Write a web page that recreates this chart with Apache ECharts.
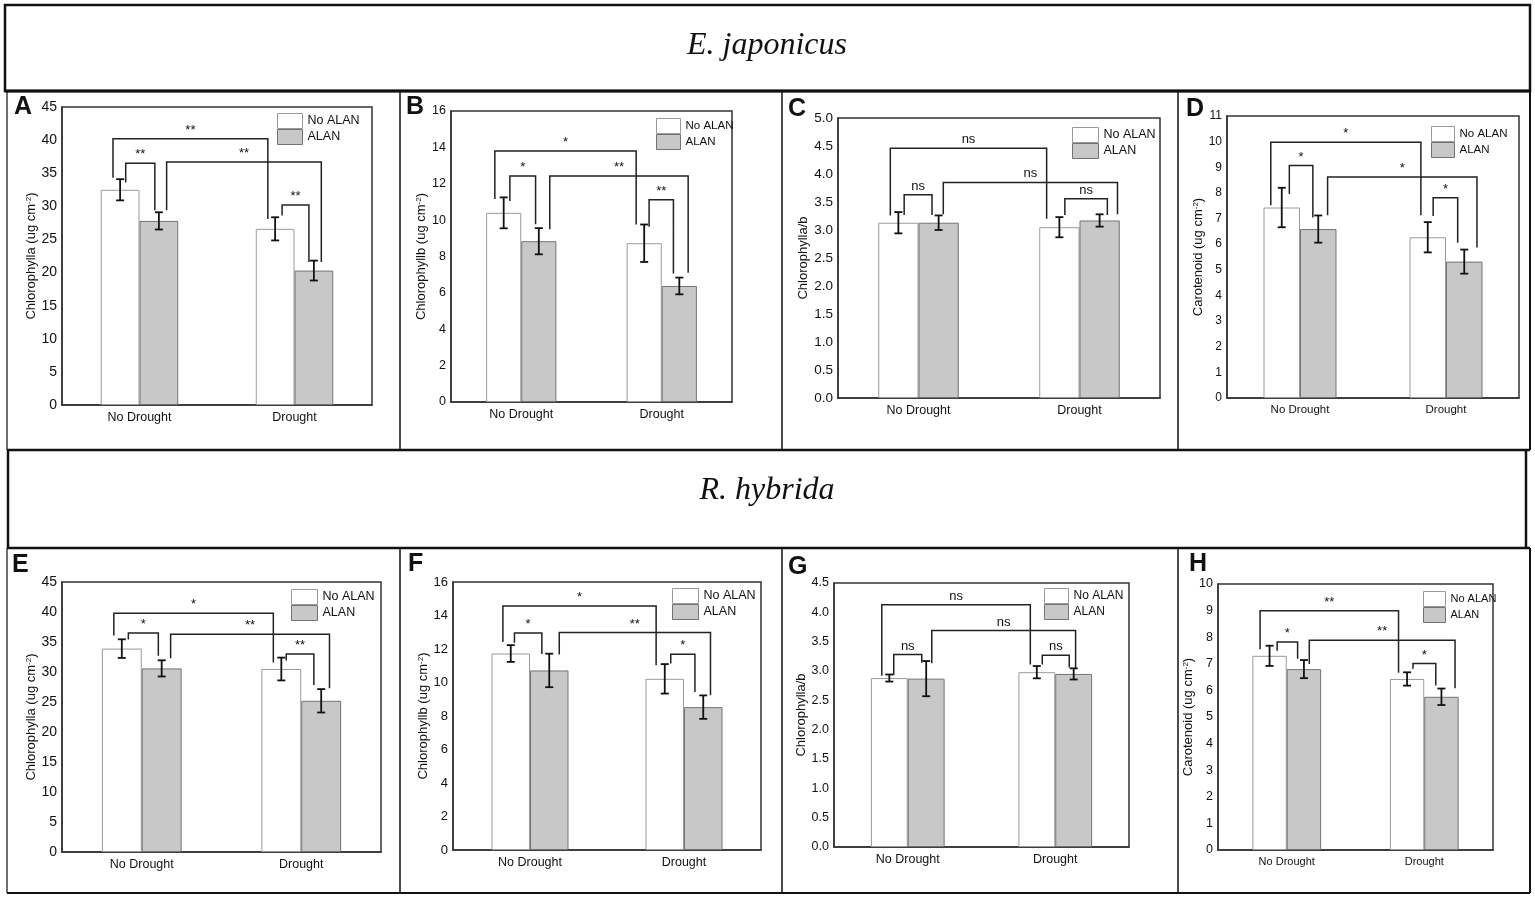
<!DOCTYPE html>
<html><head><meta charset="utf-8">
<script src="https://cdn.jsdelivr.net/npm/echarts@6/dist/echarts.min.js"></script>
<style>html,body{margin:0;padding:0;background:#fff}#c{width:1535px;height:898px}</style>
</head><body><div id="c"></div>
<script>
// ---------- data ----------
const categories = ['No Drought', 'Drought'];
const seriesNames = ['No ALAN', 'ALAN'];
const speciesTitles = ['E. japonicus', 'R. hybrida'];
const panelLetters = ['A', 'B', 'C', 'D', 'E', 'F', 'G', 'H'];
const yNames = [
  'Chlorophylla (ug cm{sup|-2})', 'Chlorophyllb (ug cm{sup|-2})', 'Chlorophylla/b', 'Carotenoid (ug cm{sup|-2})',
  'Chlorophylla (ug cm{sup|-2})', 'Chlorophyllb (ug cm{sup|-2})', 'Chlorophylla/b', 'Carotenoid (ug cm{sup|-2})'
];
const yMax = [45, 16, 5, 11, 45, 16, 4.5, 10];
const yStep = [5, 2, 0.5, 1, 5, 2, 0.5, 1];
const yDecimals = [0, 0, 1, 0, 0, 0, 1, 0];

// means (No Drought, Drought) and standard errors
const aNoAlan = [32.5, 26.6], aAlan = [27.8, 20.3], aNoAlanErr = [1.6, 1.75], aAlanErr = [1.3, 1.5];
const bNoAlan = [10.4, 8.73], bAlan = [8.84, 6.38], bNoAlanErr = [0.85, 1.03], bAlanErr = [0.72, 0.46];
const cNoAlan = [3.13, 3.05], cAlan = [3.13, 3.17], cNoAlanErr = [0.19, 0.18], cAlanErr = [0.13, 0.11];
const dNoAlan = [7.43, 6.27], dAlan = [6.59, 5.32], dNoAlanErr = [0.77, 0.59], dAlanErr = [0.53, 0.47];
const eNoAlan = [33.9, 30.5], eAlan = [30.6, 25.2], eNoAlanErr = [1.55, 1.9], eAlanErr = [1.35, 1.95];
const fNoAlan = [11.73, 10.22], fAlan = [10.72, 8.53], fNoAlanErr = [0.5, 0.88], fAlanErr = [1.0, 0.7];
const gNoAlan = [2.88, 2.98], gAlan = [2.87, 2.95], gNoAlanErr = [0.06, 0.105], gAlanErr = [0.3, 0.095];
const hNoAlan = [7.3, 6.43], hAlan = [6.8, 5.76], hNoAlanErr = [0.38, 0.25], hAlanErr = [0.34, 0.31];

// significance brackets: [leg1 category-coord, leg2 category-coord, bar height, leg1 end, leg2 end, label]
const aSig = [[-0.171, 0.828, 40.2, 34.3, 28.1, '**'], [-0.089, 0.099, 36.5, 33.6, 29.4, '**'], [0.175, 1.173, 36.7, 29.4, 21.6, '**'], [0.920, 1.093, 30.2, 28.6, 21.6, '**']];
const bSig = [[-0.188, 0.818, 13.8, 11.16, 9.76, '*'], [-0.081, 0.102, 12.42, 11.05, 9.78, '*'], [0.203, 1.188, 12.42, 9.5, 7.1, '**'], [0.910, 1.083, 11.12, 9.63, 7.06, '**']];
const cSig = [[-0.175, 0.796, 4.46, 3.26, 3.2, 'ns'], [-0.089, 0.084, 3.63, 3.27, 3.27, 'ns'], [0.154, 1.236, 3.85, 3.28, 3.28, 'ns'], [0.909, 1.173, 3.56, 3.27, 3.27, 'ns']];
const dSig = [[-0.200, 0.828, 9.98, 7.52, 7.13, '*'], [-0.073, 0.088, 9.07, 7.96, 7.04, '*'], [0.189, 1.212, 8.62, 7.13, 5.87, '*'], [0.912, 1.080, 7.81, 7.1, 6.06, '*']];
const eSig = [[-0.175, 0.825, 39.8, 36.1, 31.6, '*'], [-0.084, 0.104, 36.5, 35.4, 32.7, '*'], [0.181, 1.177, 36.3, 32.3, 27.3, '**'], [0.906, 1.079, 33.0, 31.9, 27.85, '**']];
const fSig = [[-0.176, 0.819, 14.57, 12.42, 11.03, '*'], [-0.101, 0.077, 12.96, 12.38, 11.7, '*'], [0.190, 1.172, 12.98, 11.67, 9.24, '**'], [0.914, 1.071, 11.69, 11.13, 9.44, '*']];
const gSig = [[-0.176, 0.831, 4.13, 2.92, 3.11, 'ns'], [-0.095, 0.095, 3.28, 2.93, 3.14, 'ns'], [0.163, 1.138, 3.69, 3.13, 3.05, 'ns'], [0.912, 1.095, 3.27, 3.11, 3.06, 'ns']];
const hSig = [[-0.194, 0.813, 8.99, 7.55, 6.66, '**'], [-0.070, 0.079, 7.82, 7.49, 7.19, '*'], [0.164, 1.224, 7.89, 6.99, 6.08, '**'], [0.918, 1.084, 7.01, 6.81, 6.18, '*']];

const panelData = [
  [aNoAlan, aAlan, aNoAlanErr, aAlanErr, aSig],
  [bNoAlan, bAlan, bNoAlanErr, bAlanErr, bSig],
  [cNoAlan, cAlan, cNoAlanErr, cAlanErr, cSig],
  [dNoAlan, dAlan, dNoAlanErr, dAlanErr, dSig],
  [eNoAlan, eAlan, eNoAlanErr, eAlanErr, eSig],
  [fNoAlan, fAlan, fNoAlanErr, fAlanErr, fSig],
  [gNoAlan, gAlan, gNoAlanErr, gAlanErr, gSig],
  [hNoAlan, hAlan, hNoAlanErr, hAlanErr, hSig]
];

// ---------- layout / style ----------
const FONT = '"Liberation Sans", Arial, sans-serif';
const layouts = [
  {g: [62, 107, 310, 298], gap: 23, lg: [277, 113, 25], lfs: 12.5, cfs: 12.5, tfs: 14, let: [14, 95]},
  {g: [451, 111, 281, 291], gap: 19, lg: [656, 118, 24], lfs: 11.5, cfs: 12.5, tfs: 12.5, let: [406, 95]},
  {g: [838, 118, 322, 280], gap: 25, lg: [1072, 127, 26], lfs: 12.5, cfs: 12.5, tfs: 13.5, let: [788, 97]},
  {g: [1227, 116, 292, 282], gap: 18, lg: [1431, 126, 23], lfs: 11.5, cfs: 11.5, tfs: 12, let: [1186, 97]},
  {g: [62, 582, 319, 270], gap: 23, lg: [291, 589, 26], lfs: 12.5, cfs: 12.5, tfs: 14, let: [12, 553]},
  {g: [453, 582, 308, 268], gap: 20, lg: [672, 588, 26], lfs: 12.5, cfs: 12.5, tfs: 13, let: [408, 552]},
  {g: [834, 583, 295, 264], gap: 23, lg: [1044, 588, 24], lfs: 12, cfs: 12.5, tfs: 12.5, let: [788, 555]},
  {g: [1218, 584, 275, 266], gap: 9, lg: [1423, 591, 22], lfs: 11, cfs: 11, tfs: 12.5, let: [1189, 552]}
];

const WHITE_BAR = {color: '#ffffff', borderColor: '#9a9a9a', borderWidth: 1};
const GREY_BAR = {color: '#c8c8c8', borderColor: '#737373', borderWidth: 1};

function errRender(params, api) {
  const cat = api.value(0), v = api.value(1), e = api.value(2), side = api.value(3);
  const band = api.size([1, 0])[0];
  const dx = (side ? 0.125 : -0.125) * band;
  const top = api.coord([cat, v + e]);
  const bot = api.coord([cat, v - e]);
  const x = top[0] + dx, w = 4;
  const st = {stroke: '#111', lineWidth: 1.8};
  return {type: 'group', children: [
    {type: 'line', shape: {x1: x, y1: top[1], x2: x, y2: bot[1]}, style: st},
    {type: 'line', shape: {x1: x - w, y1: top[1], x2: x + w, y2: top[1]}, style: st},
    {type: 'line', shape: {x1: x - w, y1: bot[1], x2: x + w, y2: bot[1]}, style: st}
  ]};
}

function makeSigRender(sig) {
  return function (params, api) {
    const b = sig[params.dataIndex];
    const c0 = api.coord([0, b[2]]), c1 = api.coord([1, b[2]]);
    const span = c1[0] - c0[0];
    const x1 = c0[0] + b[0] * span, x2 = c0[0] + b[1] * span;
    const yL = c0[1];
    const y1 = api.coord([0, b[3]])[1], y2 = api.coord([0, b[4]])[1];
    return {type: 'group', children: [
      {type: 'polyline', shape: {points: [[x1, y1], [x1, yL], [x2, yL], [x2, y2]]},
        style: {stroke: '#222', lineWidth: 1.5, fill: null}},
      {type: 'text', style: {text: b[5], x: (x1 + x2) / 2, y: yL - 2, align: 'center', verticalAlign: 'bottom',
        fontSize: 13, fontFamily: FONT, fill: '#111'}}
    ]};
  };
}

const grid = [], xAxis = [], yAxis = [], series = [], legend = [];
layouts.forEach((L, i) => {
  const [noA, alA, noE, alE, sig] = panelData[i];
  grid.push({left: L.g[0], top: L.g[1], width: L.g[2], height: L.g[3], show: true,
    borderColor: '#333', borderWidth: 1.5, backgroundColor: 'transparent'});
  xAxis.push({type: 'category', gridIndex: i, data: categories,
    axisLine: {show: true, lineStyle: {color: '#333', width: 1.5}}, axisTick: {show: false},
    axisLabel: {fontSize: L.cfs, color: '#111', margin: 6, fontFamily: FONT}});
  yAxis.push({type: 'value', gridIndex: i, min: 0, max: yMax[i], interval: yStep[i],
    axisLine: {show: true, lineStyle: {color: '#333', width: 1.5}}, axisTick: {show: false},
    splitLine: {show: false},
    axisLabel: {fontSize: L.tfs, color: '#111', margin: 5, fontFamily: FONT,
      formatter: v => v.toFixed(yDecimals[i])},
    name: yNames[i], nameLocation: 'middle', nameGap: L.gap,
    nameTextStyle: {fontSize: 13, color: '#111', fontFamily: FONT,
      rich: {sup: {fontSize: 8, verticalAlign: 'top', color: '#111', fontFamily: FONT}}}});
  series.push({type: 'bar', name: seriesNames[0], xAxisIndex: i, yAxisIndex: i, data: noA,
    barWidth: '25%', barGap: '0%', itemStyle: WHITE_BAR, silent: true, z: 2});
  series.push({type: 'bar', name: seriesNames[1], xAxisIndex: i, yAxisIndex: i, data: alA,
    barWidth: '25%', barGap: '0%', itemStyle: GREY_BAR, silent: true, z: 2});
  const errData = [];
  noA.forEach((v, k) => errData.push([k, v, noE[k], 0]));
  alA.forEach((v, k) => errData.push([k, v, alE[k], 1]));
  series.push({type: 'custom', xAxisIndex: i, yAxisIndex: i, data: errData, renderItem: errRender,
    silent: true, z: 5, clip: false});
  series.push({type: 'custom', xAxisIndex: i, yAxisIndex: i, data: sig.map(b => [0, b[2]]),
    renderItem: makeSigRender(sig), silent: true, z: 6, clip: false});
  legend.push({left: L.lg[0], top: L.lg[1], orient: 'vertical', itemGap: 0, itemWidth: L.lg[2], itemHeight: 15,
    padding: 0, selectedMode: false, textStyle: {fontSize: L.lfs, color: '#111', fontFamily: FONT},
    data: [{name: seriesNames[0], icon: 'rect', itemStyle: WHITE_BAR},
           {name: seriesNames[1], icon: 'rect', itemStyle: GREY_BAR}]});
});

// frames, titles, letters
const lineEl = (x1, y1, x2, y2, w) => ({type: 'line', shape: {x1, y1, x2, y2}, style: {stroke: '#111', lineWidth: w}, silent: true});
const graphic = [
  {type: 'rect', shape: {x: 5, y: 5, width: 1525, height: 86}, style: {fill: 'none', stroke: '#111', lineWidth: 2.5}, silent: true},
  lineEl(5, 91, 1530, 91, 3),
  lineEl(7, 91, 7, 450, 1.2), lineEl(400, 91, 400, 450, 1.5), lineEl(782, 91, 782, 450, 1.5),
  lineEl(1178, 91, 1178, 450, 1.5), lineEl(1530, 91, 1530, 450, 2),
  lineEl(7, 450, 1530, 450, 2.5),
  lineEl(8, 450, 8, 548, 2.5), lineEl(1526, 450, 1526, 548, 2.5),
  lineEl(7, 548, 1530, 548, 2.5),
  lineEl(7, 548, 7, 893, 1.2), lineEl(400, 548, 400, 893, 1.5), lineEl(782, 548, 782, 893, 1.5),
  lineEl(1178, 548, 1178, 893, 1.5), lineEl(1530, 548, 1530, 893, 2),
  lineEl(7, 893, 1530, 893, 2),
  {type: 'text', style: {text: speciesTitles[0], x: 767, y: 46, align: 'center', verticalAlign: 'middle',
    fontSize: 32, fontStyle: 'italic', fontFamily: '"Liberation Serif", "Times New Roman", serif', fill: '#111'}, silent: true},
  {type: 'text', style: {text: speciesTitles[1], x: 767, y: 491, align: 'center', verticalAlign: 'middle',
    fontSize: 32, fontStyle: 'italic', fontFamily: '"Liberation Serif", "Times New Roman", serif', fill: '#111'}, silent: true}
];
layouts.forEach((L, i) => {
  graphic.push({type: 'text', style: {text: panelLetters[i], x: L.let[0], y: L.let[1], align: 'left', verticalAlign: 'top',
    fontSize: 25, fontWeight: 'bold', fontFamily: FONT, fill: '#111'}, silent: true});
});

const chart = echarts.init(document.getElementById('c'), null, {renderer: 'canvas'});
chart.setOption({animation: false, backgroundColor: '#fff', grid, xAxis, yAxis, series, legend, graphic});
</script>
</body></html>
